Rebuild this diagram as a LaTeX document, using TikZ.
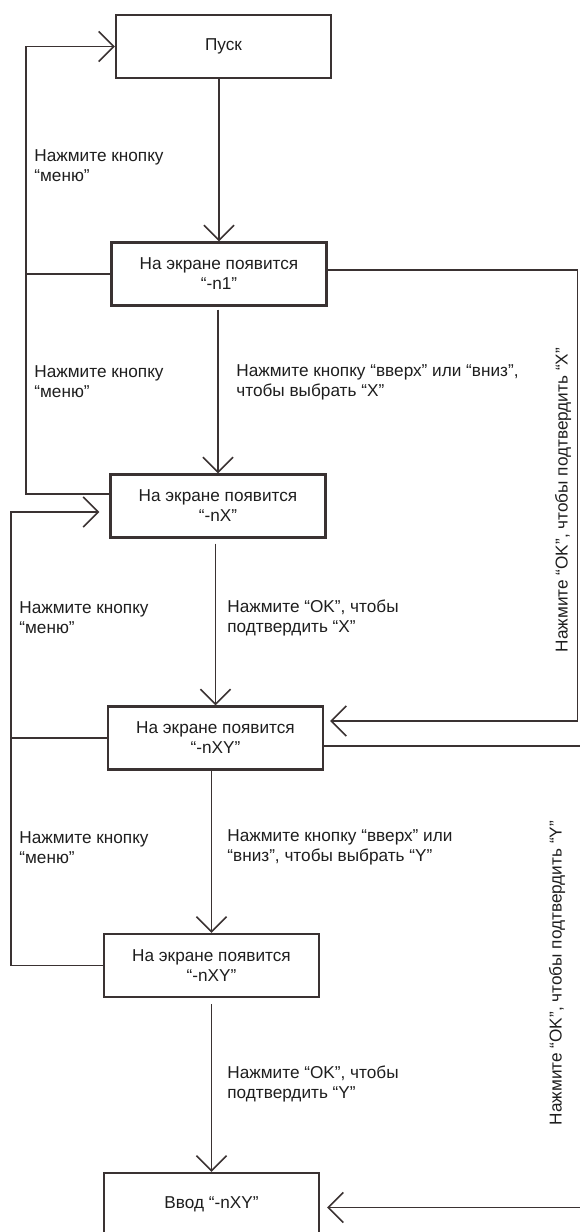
\documentclass[tikz,border=0pt]{standalone}
\usepackage{fontspec}
\setmainfont{Liberation Sans}
\usepackage{xcolor}
\usepackage{tikz}
\usetikzlibrary{arrows.meta}
\definecolor{ink}{HTML}{3A3232}
\definecolor{txt}{HTML}{1E1E1E}

\tikzset{
  box/.style={draw=ink, line width=1.2pt, minimum width=107.5pt, minimum height=31.5pt, align=center, inner sep=0pt, text=txt},
  lbl/.style={anchor=west, align=left, inner sep=0pt, text=txt},
  side/.style={rotate=90, inner sep=0pt, text=txt},
  wire/.style={draw=ink, line width=0.8pt},
  flow/.style={wire, -{Straight Barb[length=7.5pt,width=15pt]}}
}

\begin{document}
\begin{tikzpicture}[x=0.5pt, y=-0.5pt, font=\fontsize{8.6pt}{10pt}\selectfont]
        \useasboundingbox (0,0) rectangle (579,1232);

        % Boxes
        \node[box] (pusk) at (223.5,46.5) {Пуск};
        \node[box] (n1) at (219,274) {На экране появится\\“-n1”};
        \node[box] (nx) at (218,506) {На экране появится\\“-nX”};
        \node[box] (nxy) at (215.5,738) {На экране появится\\“-nXY”};
        \node[box] (nxyb) at (211.5,965.5) {На экране появится\\“-nXY”};
        \node[box] (vvod) at (211.5,1204.5) {Ввод “-nXY”};

        % Return lines
        \coordinate (menuA) at (26,0);
        \coordinate (menuB) at (11,0);
        \coordinate (okX) at (577.5,0);
        \coordinate (okY) at (590,0); % off the page
        \coordinate (nxOut) at ([yshift=6pt]nx.west);
        \coordinate (nxIn) at ([yshift=-3pt]nx.west);
        \coordinate (n1Out) at ([yshift=2pt]n1.east);
        \coordinate (nxyIn) at ([yshift=8.5pt]nxy.east);
        \coordinate (nxyOut) at ([yshift=-4pt]nxy.east);
        \coordinate (vvodIn) at ([yshift=-1.5pt]vvod.east);

        % Main flow
        \draw[flow] (n1.north |- pusk.south) -- (n1.north);
        \draw[flow, shorten <=1.5pt] (nx.north |- n1.south) -- (nx.north);
        \draw[flow, shorten <=2.5pt] (nxy.north |- nx.south) -- (nxy.north);
        \draw[flow] (nxyb.north |- nxy.south) -- (nxyb.north);
        \draw[flow, shorten <=3pt] (vvod.north |- nxyb.south) -- (vvod.north);

        % Menu loops
        \draw[flow] (nxOut) -- (nxOut -| menuA) |- (pusk.west);
        \draw[wire] (n1.west) -- (n1.west -| menuA);
        \draw[flow, shorten >=5pt] (nxyb.west) -- (nxyb.west -| menuB) |- (nxIn);
        \draw[wire] (nxy.west) -- (nxy.west -| menuB);

        % OK loops
        \draw[flow, shorten >=3pt] (n1Out) -- (n1Out -| okX) |- (nxyIn);
        \draw[flow, shorten >=3.5pt] (nxyOut) -- (nxyOut -| okY) |- (vvodIn);

        % Labels
        \node[lbl] (menu1) at (34,166) {Нажмите кнопку\\“меню”};
        \node[lbl] (menu2) at (34,382) {Нажмите кнопку\\“меню”};
        \node[lbl] (menu3) at (19,617.7) {Нажмите кнопку\\“меню”};
        \node[lbl] (menu4) at (19,847.5) {Нажмите кнопку\\“меню”};
        \node[lbl] (selX) at (236,382) {Нажмите кнопку “вверх” или “вниз”,\\чтобы выбрать “X”};
        \node[lbl] (confX) at (227,617.7) {Нажмите “OK”, чтобы\\подтвердить “X”};
        \node[lbl] (selY) at (227,847.5) {Нажмите кнопку “вверх” или\\“вниз”, чтобы выбрать “Y”};
        \node[lbl] (confY) at (227,1083.7) {Нажмите “OK”, чтобы\\подтвердить “Y”};
        \node[side] (sideX) at (563,500) {Нажмите “OK”, чтобы подтвердить “X”};
        \node[side] (sideY) at (557,973) {Нажмите “OK”, чтобы подтвердить “Y”};
    \end{tikzpicture}
\end{document}
